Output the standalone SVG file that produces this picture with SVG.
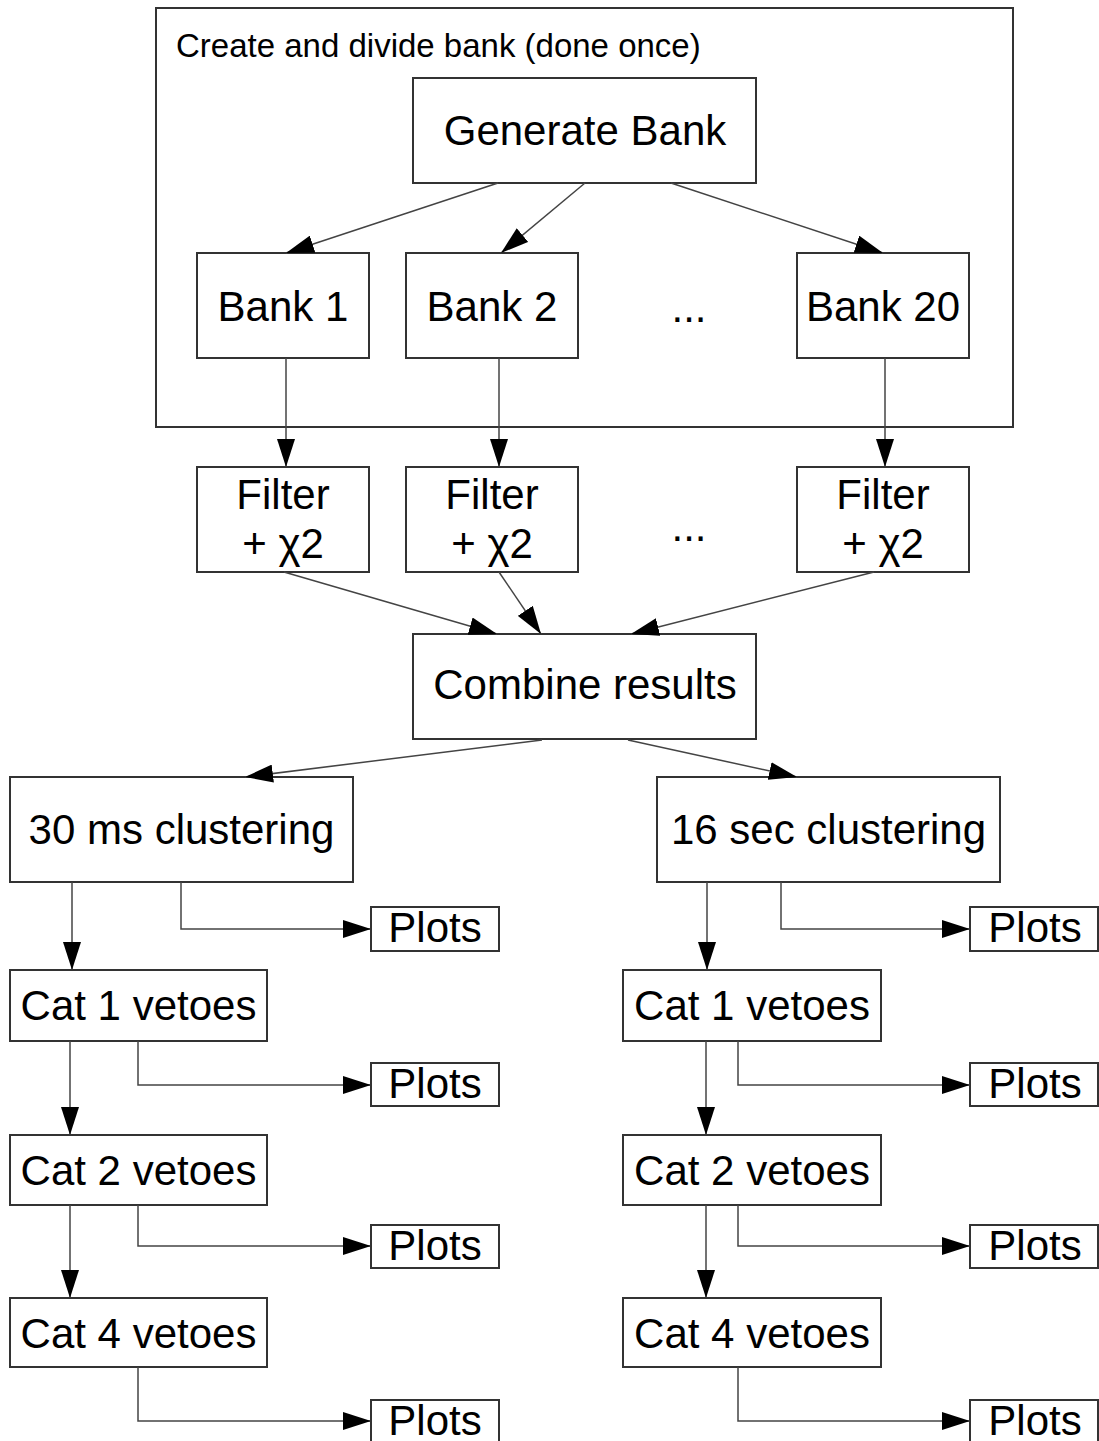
<svg xmlns="http://www.w3.org/2000/svg" width="1099" height="1441" viewBox="0 0 1099 1441">
<style>
.box{fill:#fff;stroke:#333;stroke-width:2}
.t{font-family:"Liberation Sans",Arial,Helvetica,sans-serif;font-size:42px;fill:#000;text-anchor:middle}
.c{fill:none;stroke:#444;stroke-width:1.5;marker-end:url(#ah)}
</style>
<defs>
<marker id="ah" viewBox="0 0 28 18" refX="28" refY="9" markerWidth="28" markerHeight="18" markerUnits="userSpaceOnUse" orient="auto"><path d="M0,0 L28,9 L0,18 z" fill="#000"/></marker>
</defs>
<rect width="1099" height="1441" fill="#fff"/>
<g id="container">
<rect x="156" y="8" width="857" height="419" fill="none" stroke="#333" stroke-width="2"/>
<text x="176" y="57" font-family="Liberation Sans, Arial, sans-serif" font-size="33" fill="#000">Create and divide bank (done once)</text>
</g>
<g id="generate"><rect class="box" x="413" y="78" width="343" height="105"/><text class="t" x="585" y="145">Generate Bank</text></g>
<g id="bank1"><rect class="box" x="197" y="253" width="172" height="105"/><text class="t" x="283" y="321">Bank 1</text></g>
<g id="bank2"><rect class="box" x="406" y="253" width="172" height="105"/><text class="t" x="492" y="321">Bank 2</text></g>
<g id="dots1"><text class="t" x="689" y="322">...</text></g>
<g id="bank20"><rect class="box" x="797" y="253" width="172" height="105"/><text class="t" x="883" y="321">Bank 20</text></g>
<g id="filter1"><rect class="box" x="197" y="467" width="172" height="105"/><text class="t" x="283" y="509">Filter</text><text class="t" x="283" y="558">+ χ2</text></g>
<g id="filter2"><rect class="box" x="406" y="467" width="172" height="105"/><text class="t" x="492" y="509">Filter</text><text class="t" x="492" y="558">+ χ2</text></g>
<g id="dots2"><text class="t" x="689" y="541">...</text></g>
<g id="filter20"><rect class="box" x="797" y="467" width="172" height="105"/><text class="t" x="883" y="509">Filter</text><text class="t" x="883" y="558">+ χ2</text></g>
<g id="combine"><rect class="box" x="413" y="634" width="343" height="105"/><text class="t" x="585" y="699">Combine results</text></g>
<g id="cl30"><rect class="box" x="10" y="777" width="343" height="105"/><text class="t" x="181.5" y="844">30 ms clustering</text></g>
<g id="cl16"><rect class="box" x="657" y="777" width="343" height="105"/><text class="t" x="828.5" y="844">16 sec clustering</text></g>
<g id="lcat1"><rect class="box" x="10" y="970" width="257" height="71"/><text class="t" x="138.5" y="1020">Cat 1 vetoes</text></g>
<g id="lcat2"><rect class="box" x="10" y="1135" width="257" height="70"/><text class="t" x="138.5" y="1185">Cat 2 vetoes</text></g>
<g id="lcat4"><rect class="box" x="10" y="1298" width="257" height="69"/><text class="t" x="138.5" y="1348">Cat 4 vetoes</text></g>
<g id="rcat1"><rect class="box" x="623" y="970" width="258" height="71"/><text class="t" x="752" y="1020">Cat 1 vetoes</text></g>
<g id="rcat2"><rect class="box" x="623" y="1135" width="258" height="70"/><text class="t" x="752" y="1185">Cat 2 vetoes</text></g>
<g id="rcat4"><rect class="box" x="623" y="1298" width="258" height="69"/><text class="t" x="752" y="1348">Cat 4 vetoes</text></g>
<g id="lplots0"><rect class="box" x="371" y="907" width="128" height="44"/><text class="t" x="435" y="942">Plots</text></g>
<g id="lplots1"><rect class="box" x="371" y="1063" width="128" height="43"/><text class="t" x="435" y="1098">Plots</text></g>
<g id="lplots2"><rect class="box" x="371" y="1225" width="128" height="43"/><text class="t" x="435" y="1260">Plots</text></g>
<g id="lplots4"><rect class="box" x="371" y="1400" width="128" height="43"/><text class="t" x="435" y="1435">Plots</text></g>
<g id="rplots0"><rect class="box" x="970" y="907" width="128" height="44"/><text class="t" x="1035" y="942">Plots</text></g>
<g id="rplots1"><rect class="box" x="970" y="1063" width="128" height="43"/><text class="t" x="1035" y="1098">Plots</text></g>
<g id="rplots2"><rect class="box" x="970" y="1225" width="128" height="43"/><text class="t" x="1035" y="1260">Plots</text></g>
<g id="rplots4"><rect class="box" x="970" y="1400" width="128" height="43"/><text class="t" x="1035" y="1435">Plots</text></g>
<g id="connectors">
<path class="c" d="M498,183 L286,253"/>
<path class="c" d="M585,183 L501,253"/>
<path class="c" d="M671,183 L883,253"/>
<path class="c" d="M286,358 L286,467"/>
<path class="c" d="M499,358 L499,467"/>
<path class="c" d="M885,358 L885,467"/>
<path class="c" d="M284,572 L497,634"/>
<path class="c" d="M499,572 L541,634"/>
<path class="c" d="M874,572 L631,634"/>
<path class="c" d="M542,740 L245,777"/>
<path class="c" d="M628,740 L797,777"/>
<path class="c" d="M72,882 L72,970"/>
<path class="c" d="M70,1041 L70,1135"/>
<path class="c" d="M70,1205 L70,1298"/>
<path class="c" d="M181,882 L181,929 L371,929"/>
<path class="c" d="M138,1041 L138,1085 L371,1085"/>
<path class="c" d="M138,1205 L138,1246 L371,1246"/>
<path class="c" d="M138,1367 L138,1421 L371,1421"/>
<path class="c" d="M707,882 L707,970"/>
<path class="c" d="M706,1041 L706,1135"/>
<path class="c" d="M706,1205 L706,1298"/>
<path class="c" d="M781,882 L781,929 L970,929"/>
<path class="c" d="M738,1041 L738,1085 L970,1085"/>
<path class="c" d="M738,1205 L738,1246 L970,1246"/>
<path class="c" d="M738,1367 L738,1421 L970,1421"/>
</g>
</svg>
